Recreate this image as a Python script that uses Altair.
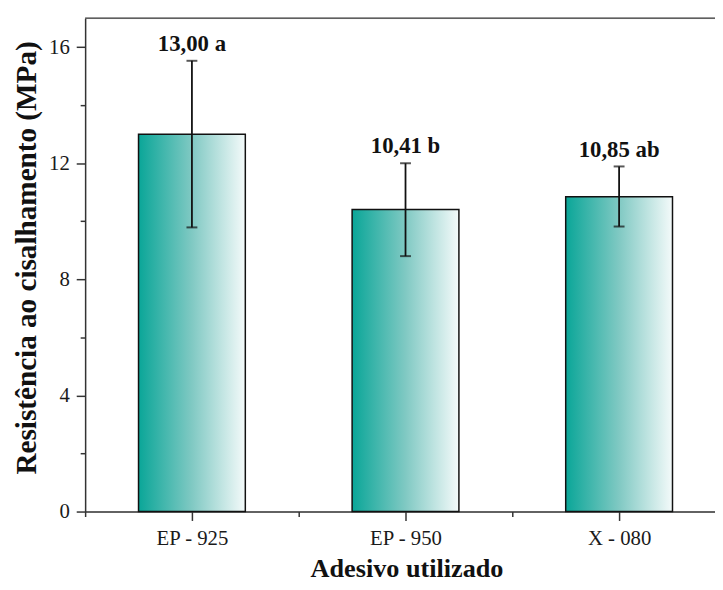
import altair as alt
import pandas as pd

# ---- data ----
categories = ["EP - 925", "EP - 950", "X - 080"]
positions = [1, 2, 3]
means = [13.00, 10.41, 10.85]
err_low = [9.79, 8.80, 9.82]
err_high = [15.53, 12.00, 11.89]
labels = ["13,00 a", "10,41 b", "10,85 ab"]

y_ticks = [0, 2, 4, 6, 8, 10, 12, 14, 16]
x_ticks = [0.5, 1, 1.5, 2, 2.5, 3]

df = pd.DataFrame({
    "cat": categories,
    "pos": positions,
    "mean": means,
    "lo": err_low,
    "hi": err_high,
    "label": labels,
})

W, H = 637, 499
FONT = "Liberation Serif"
AX = "#333333"

label_expr = ("datum.value == 1 ? 'EP - 925' : datum.value == 2 ? 'EP - 950' : "
              "datum.value == 3 ? 'X - 080' : ''")

x_scale = alt.Scale(domain=[0.5, 3.449], nice=False, zero=False)
y_scale = alt.Scale(domain=[0, 17], nice=False)

x_axis = alt.Axis(
    values=x_ticks, labelExpr=label_expr, grid=False,
    tickSize={"condition": {"test": "datum.value % 1 === 0", "value": 9}, "value": 5},
    tickColor=AX, tickWidth=1.5, domainColor=AX, domainWidth=1.5,
    labelFont=FONT, labelFontSize=21, labelColor="#1a1a1a", labelPadding=7,
    labelFlush=False, labelOverlap=False,
    title="Adesivo utilizado", titleFont=FONT, titleFontSize=26.5,
    titleFontWeight="bold", titleColor="#111111",
    titleX=325, titleY=66, titleBaseline="alphabetic", titleAlign="center",
)
y_axis = alt.Axis(
    values=y_ticks, grid=False,
    labelExpr="datum.value % 4 === 0 ? datum.value : ''",
    tickSize={"condition": {"test": "datum.value % 4 === 0", "value": 9}, "value": 5},
    tickColor=AX, tickWidth=1.5, domainColor=AX, domainWidth=1.5,
    labelFont=FONT, labelFontSize=21, labelColor="#1a1a1a", labelPadding=7,
    title="Resistência ao cisalhamento (MPa)", titleFont=FONT, titleFontSize=29.5,
    titleFontWeight="bold", titleColor="#111111",
    titleX=-59, titleY=242, titleAngle=-90, titleBaseline="middle", titleAlign="center",
)

gradient = {
    "gradient": "linear", "x1": 0, "x2": 1, "y1": 0, "y2": 0,
    "stops": [
        {"offset": 0, "color": "#0aa698"},
        {"offset": 0.5, "color": "#80c9c3"},
        {"offset": 1, "color": "#f4fafa"},
    ],
}

base = alt.Chart(df)

bars = base.transform_calculate(
    x1="datum.pos - 0.25", x2="datum.pos + 0.25"
).mark_bar(fill=gradient, stroke="#111111", strokeWidth=1.5).encode(
    x=alt.X("x1:Q", scale=x_scale, axis=x_axis),
    x2="x2:Q",
    y=alt.Y("mean:Q", scale=y_scale, axis=y_axis),
    y2=alt.datum(0),
)

err = base.mark_rule(color="#111111", strokeWidth=1.8).encode(
    x=alt.X("pos:Q", scale=x_scale),
    y=alt.Y("lo:Q", scale=y_scale),
    y2="hi:Q",
)
cap_lo = base.mark_tick(color="#111111", orient="horizontal", size=11, thickness=2).encode(
    x=alt.X("pos:Q", scale=x_scale),
    y=alt.Y("lo:Q", scale=y_scale),
)
cap_hi = base.mark_tick(color="#111111", orient="horizontal", size=11, thickness=2).encode(
    x=alt.X("pos:Q", scale=x_scale),
    y=alt.Y("hi:Q", scale=y_scale),
)

texts = base.mark_text(
    font=FONT, fontSize=23, fontWeight="bold", color="#111111",
    baseline="alphabetic", dy=-10, align="center",
).encode(
    x=alt.X("pos:Q", scale=x_scale),
    y=alt.Y("hi:Q", scale=y_scale),
    text="label:N",
)

top_line = alt.Chart(pd.DataFrame({"v": [17]})).mark_rule(
    color=AX, strokeWidth=1.5
).encode(
    y=alt.Y("v:Q", scale=y_scale),
    x=alt.value(0), x2=alt.value(W),
)

chart = alt.layer(bars, err, cap_lo, cap_hi, texts, top_line).properties(
    width=W, height=H,
    autosize=alt.AutoSizeParams(type="none"),
    padding={"left": 78, "top": 7, "right": 0, "bottom": 68},
).configure_view(stroke=None).configure(background="white")

chart.save("out.html", embed_options={"renderer": "svg", "actions": False})
